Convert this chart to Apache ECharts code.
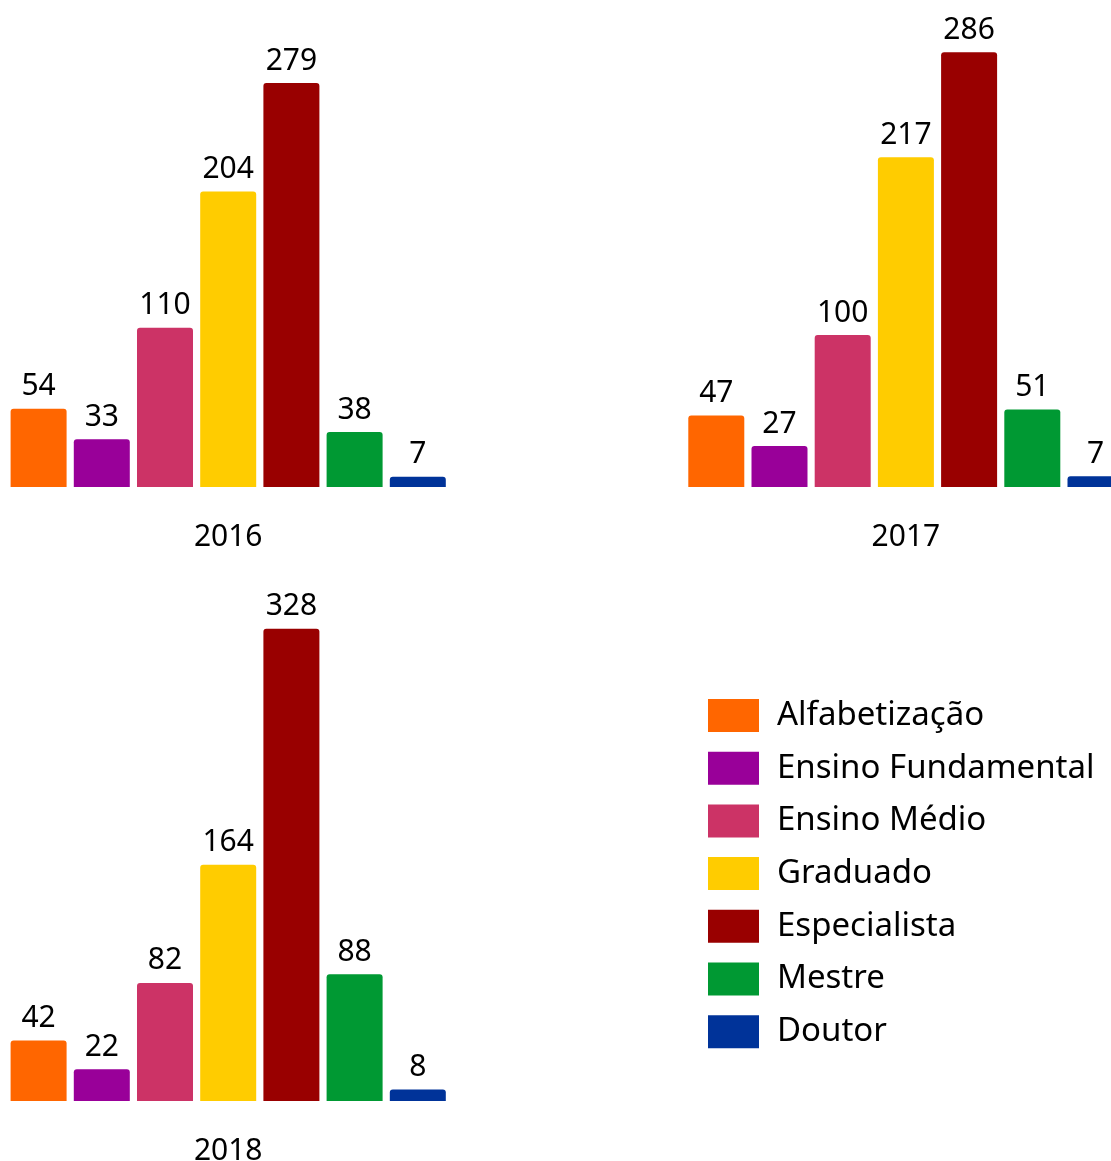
<!DOCTYPE html>
<html>
<head>
<meta charset="utf-8">
<script src="https://cdn.jsdelivr.net/npm/echarts@6/dist/echarts.min.js"></script>
<style>
html,body{margin:0;padding:0;background:#fff;overflow:hidden;width:1111px;height:1161px;}
#c{width:1140px;height:1161px;}
</style>
</head>
<body>
<div id="c"></div>
<script>
var categories = ['Alfabetização', 'Ensino Fundamental', 'Ensino Médio', 'Graduado', 'Especialista', 'Mestre', 'Doutor'];
var colors = ['#FF6600', '#990099', '#CC3366', '#FFCC00', '#990000', '#009933', '#003399'];
var years = ['2016', '2017', '2018'];
var values2016 = [54, 33, 110, 204, 279, 38, 7];
var values2017 = [47, 27, 100, 217, 286, 51, 7];
var values2018 = [42, 22, 82, 164, 328, 88, 8];
var yMax = [300, 300, 350];

var allValues = [values2016, values2017, values2018];
var FONT = '"Noto Sans", sans-serif';

// grid placement per panel: left, width, top, height
var grids = [
  {left: 7, width: 442.4, top: 487 - 300 * 1.448, height: 300 * 1.448},
  {left: 684.7, width: 442.4, top: 487 - 300 * 1.52, height: 300 * 1.52},
  {left: 7, width: 442.4, top: 1101 - 350 * 1.44, height: 350 * 1.44}
];

var xAxes = [], yAxes = [], series = [];
years.forEach(function (yr, i) {
  xAxes.push({
    type: 'category', gridIndex: i, data: [yr],
    axisLine: {show: false}, axisTick: {show: false},
    axisLabel: {show: true, margin: 35, color: '#000', fontSize: 30, fontFamily: FONT}
  });
  yAxes.push({
    type: 'value', gridIndex: i, min: 0, max: yMax[i], show: false,
    splitLine: {show: false}
  });
  categories.forEach(function (cat, c) {
    series.push({
      type: 'bar', name: cat, xAxisIndex: i, yAxisIndex: i,
      data: [allValues[i][c]],
      barWidth: 56, barGap: '12.86%',
      itemStyle: {color: colors[c], borderRadius: [3, 3, 0, 0]},
      label: {show: true, position: 'top', distance: 7, color: '#000', fontSize: 30, fontFamily: FONT},
      emphasis: {disabled: true}
    });
  });
});

var chart = echarts.init(document.getElementById('c'), null, {renderer: 'canvas'});
chart.setOption({
  animation: false,
  backgroundColor: '#fff',
  grid: grids.map(function (g) {
    return {left: g.left, width: g.width, top: g.top, height: g.height, containLabel: false, outerBoundsMode: 'none'};
  }),
  xAxis: xAxes,
  yAxis: yAxes,
  legend: {
    data: categories,
    orient: 'vertical',
    left: 708, top: 697,
    padding: 0,
    icon: 'rect',
    itemWidth: 51, itemHeight: 33, itemGap: 15.7,
    textStyle: {fontSize: 33, fontFamily: FONT, color: '#000', padding: [4, 0, 0, 13], lineHeight: 33}
  },
  series: series
});
</script>
</body>
</html>
